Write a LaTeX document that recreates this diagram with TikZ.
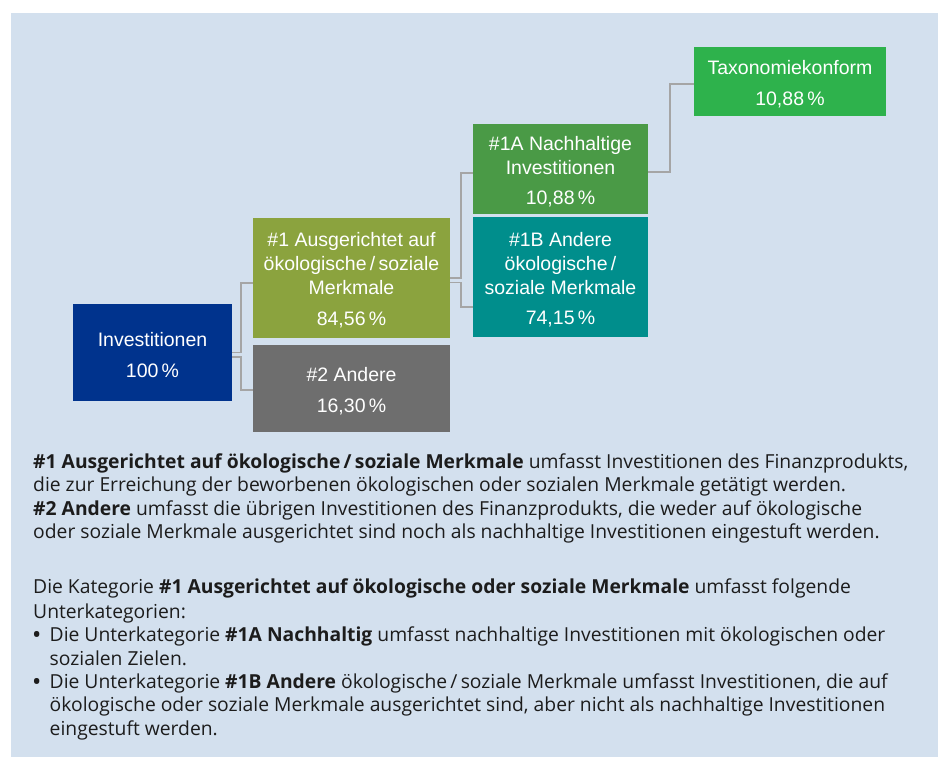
\documentclass[tikz,border=0pt]{standalone}
\usepackage{fontspec}
\setmainfont{Open Sans}
\newfontfamily\boxfont{Liberation Sans}
\newfontfamily\bodyfont{Open Sans}
\definecolor{bgblue}{RGB}{211,224,238}
\definecolor{invblue}{RGB}{0,51,141}
\definecolor{olive}{RGB}{139,163,62}
\definecolor{darkgray}{RGB}{110,110,110}
\definecolor{nachgreen}{RGB}{74,154,70}
\definecolor{tealc}{RGB}{0,142,140}
\definecolor{taxgreen}{RGB}{46,178,76}
\definecolor{linegray}{RGB}{165,165,165}
\definecolor{txt}{RGB}{28,28,28}
% empty first line that lowers the box text a little
\newcommand\toppad{\mbox{}\\[-4.8pt]}
\tikzset{
  catbox/.style={draw=none, inner sep=0pt, align=center, text=white,
    font=\boxfont\fontsize{19.5}{24}\selectfont},
  conn/.style={draw=linegray, line width=1.8pt},
  bodyline/.style={anchor=base west, inner sep=0pt, text=txt,
    font=\bodyfont\fontsize{19.3}{23.5}\selectfont},
}
\begin{document}
\begin{tikzpicture}[x=1pt,y=-1pt]
\useasboundingbox (0,0) rectangle (938,758);
\fill[bgblue] (11,13) rectangle (938,757);

% boxes
\node[catbox, fill=invblue, minimum width=159pt, minimum height=97pt] (inv) at (152.5,352.5)
  {\toppad Investitionen\\[6.5pt]100\,\%};
\node[catbox, fill=olive, minimum width=197pt, minimum height=120pt] (n1) at (351.5,278)
  {\toppad\#1 Ausgerichtet auf\\ökologische\,/\,soziale\\Merkmale\\[7pt]84,56\,\%};
\node[catbox, fill=darkgray, minimum width=197pt, minimum height=87pt] (n2) at (351.5,388.5)
  {\toppad\#2 Andere\\[6.5pt]16,30\,\%};
\node[catbox, fill=nachgreen, minimum width=175pt, minimum height=90pt] (n1a) at (560.5,169)
  {\toppad\#1A Nachhaltige\\Investitionen\\[6pt]10,88\,\%};
\node[catbox, fill=tealc, minimum width=175pt, minimum height=120pt] (n1b) at (560.5,277)
  {\toppad\#1B Andere\\ökologische\,/\\soziale Merkmale\\[6.5pt]74,15\,\%};
\node[catbox, fill=taxgreen, minimum width=192pt, minimum height=69pt] (tax) at (790,81.5)
  {\toppad Taxonomiekonform\\[7pt]10,88\,\%};

% connectors
\draw[conn] (inv.east) -- ++(9,0) |- ([yshift=-5pt]n1.west);
\draw[conn] ([yshift=-4.5pt]inv.east) -- ++(9,0) |- ([yshift=-1.5pt]n2.west);
\draw[conn] (n1.east) -- ++(10.5,0) |- ([yshift=-4pt]n1a.west);
\draw[conn] ([yshift=-4.5pt]n1.east) -- ++(10.5,0) |- ([yshift=-30pt]n1b.west);
\draw[conn] ([yshift=-2.7pt]n1a.east) -- ++(21.5,0) |- ([yshift=-2.8pt]tax.west);

% explanatory text
\node[bodyline] (l1) at (33,468.3) {\textbf{\#1 Ausgerichtet auf ökologische\,/\,soziale Merkmale} umfasst Investitionen des Finanzprodukts,};
\node[bodyline] (l2) at (33,491.7) {die zur Erreichung der beworbenen ökologischen oder sozialen Merkmale getätigt werden.};
\node[bodyline] (l3) at (33,515) {\textbf{\#2 Andere} umfasst die übrigen Investitionen des Finanzprodukts, die weder auf ökologische};
\node[bodyline] (l4) at (33,538.3) {oder soziale Merkmale ausgerichtet sind noch als nachhaltige Investitionen eingestuft werden.};
\node[bodyline] (l5) at (33,593.3) {Die Kategorie \textbf{\#1 Ausgerichtet auf ökologische oder soziale Merkmale} umfasst folgende};
\node[bodyline] (l6) at (33,618) {Unterkategorien:};
\node[bodyline] (b1) at (33,641.7) {\textbf{•}};
\node[bodyline] (l7) at (49.5,641.7) {Die Unterkategorie \textbf{\#1A Nachhaltig} umfasst nachhaltige Investitionen mit ökologischen oder};
\node[bodyline] (l8) at (49.5,665.2) {sozialen Zielen.};
\node[bodyline] (b2) at (33,688.5) {\textbf{•}};
\node[bodyline] (l9) at (49.5,688.5) {Die Unterkategorie \textbf{\#1B Andere} ökologische\,/\,soziale Merkmale umfasst Investitionen, die auf};
\node[bodyline] (l10) at (49.5,711.8) {ökologische oder soziale Merkmale ausgerichtet sind, aber nicht als nachhaltige Investitionen};
\node[bodyline] (l11) at (49.5,735.2) {eingestuft werden.};
\end{tikzpicture}
\end{document}
